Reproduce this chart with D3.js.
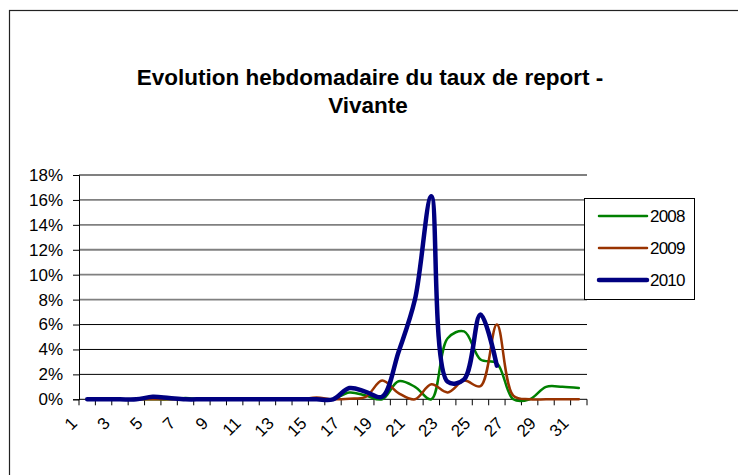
<!DOCTYPE html>
<html>
<head>
<meta charset="utf-8">
<script src="https://cdn.jsdelivr.net/npm/d3@7"></script>
<style>
  body { margin: 0; background: #fff; }
  text { font-family: "Liberation Sans", Arial, sans-serif; fill: #000; }
</style>
</head>
<body>
<div id="chart"></div>
<script>
// --- Daten (Wochen 1..31, Werte in %) ---
const semaines = [1,2,3,4,5,6,7,8,9,10,11,12,13,14,15,16,17,18,19,20,21,22,23,24,25,26,27,28,29,30,31];
const yTicks = [0, 2, 4, 6, 8, 10, 12, 14, 16, 18];

const serie2008 = [0,0,0,0,0,0,0.1,0,0,0,0,0,0,0,0,0,0.55,0.3,0,1.45,1.0,0,4.9,5.45,3.2,2.9,0,0,1.0,1.0,0.9];
const serie2009 = [0,0,0,0,0,0,0,0,0,0,0,0,0,0,0.15,0,0.05,0.2,1.5,0.5,0,1.2,0.55,1.5,1.05,6.0,0.3,0,0,0,0];
const serie2010 = [0,0,0,0,0.2,0.1,0,0,0,0,0,0,0,0,0,0,0.9,0.6,0.2,3.8,8.0,16.3,1.4,1.6,6.8,2.7,null,null,null,null,null];

const series = [
    { name: "2008", values: serie2008, color: "#008000", width: 2.5 },
    { name: "2009", values: serie2009, color: "#993300", width: 2.5 },
    { name: "2010", values: serie2010, color: "#000080", width: 4.5 }
];

const W = 738, H = 475;
const plot = { left: 79, right: 587, top: 175, bottom: 399.3 };

const svg = d3.select("#chart")
    .append("svg")
    .attr("width", W)
    .attr("height", H);

// Rahmen um das Diagramm
svg.append("rect")
    .attr("x", 9.5).attr("y", 10.5)
    .attr("width", 740).attr("height", 480)
    .attr("fill", "#fff")
    .attr("stroke", "#222")
    .attr("stroke-width", 1.2);

// Titel
const title = svg.append("text")
    .attr("text-anchor", "middle")
    .style("font-size", "22.5px")
    .style("font-weight", "bold");
title.append("tspan").attr("x", 370).attr("y", 85).text("Evolution hebdomadaire du taux de report -");
title.append("tspan").attr("x", 368).attr("y", 113).text("Vivante");

// Skalen
const x = d3.scaleBand()
    .domain(semaines)
    .range([plot.left, plot.right])
    .paddingInner(0).paddingOuter(0);
const cx = d => x(d) + x.bandwidth() / 2;

const y = d3.scaleLinear()
    .domain([0, 18])
    .range([plot.bottom, plot.top]);

// Gitterlinien
svg.append("g")
    .selectAll("line")
    .data(yTicks.filter(v => v > 0))
    .enter()
    .append("line")
    .attr("x1", plot.left).attr("x2", plot.right)
    .attr("y1", d => y(d)).attr("y2", d => y(d))
    .attr("stroke", d => d >= 8 ? "#808080" : "#000")
    .attr("stroke-width", d => d >= 8 ? 1.8 : 1);

// Y-Achse
const yAxis = svg.append("g")
    .attr("transform", `translate(${plot.left},0)`)
    .call(d3.axisLeft(y).tickValues(yTicks).tickSize(6).tickPadding(10).tickFormat(d => d + "%"));
yAxis.select(".domain").attr("stroke", "#000");
yAxis.selectAll(".tick line").attr("stroke", "#000");
yAxis.selectAll("text")
    .style("font-size", "17px")
    .style("font-family", "'Liberation Sans', Arial, sans-serif");

// X-Achse: Linie + Striche an den Kategoriegrenzen
svg.append("line")
    .attr("x1", plot.left).attr("x2", plot.right)
    .attr("y1", plot.bottom).attr("y2", plot.bottom)
    .attr("stroke", "#000");

const grenzen = semaines.map(d => x(d)).concat([plot.right]);
svg.append("g")
    .selectAll("line")
    .data(grenzen)
    .enter()
    .append("line")
    .attr("x1", d => d).attr("x2", d => d)
    .attr("y1", plot.bottom).attr("y2", plot.bottom + 6)
    .attr("stroke", "#000");

// X-Beschriftungen (schräg)
svg.append("g")
    .selectAll("text")
    .data(semaines.filter(d => d % 2 === 1))
    .enter()
    .append("text")
    .text(d => d)
    .attr("text-anchor", "end")
    .attr("transform", d => `translate(${cx(d) - 9},${plot.bottom + 25}) rotate(-45)`)
    .style("font-size", "17px");

// Linien (geglättet)
const line = d3.line()
    .defined(d => d.v !== null)
    .x(d => cx(d.w))
    .y(d => y(d.v))
    .curve(d3.curveCatmullRom.alpha(0.5));

svg.append("g")
    .selectAll("path")
    .data(series)
    .enter()
    .append("path")
    .attr("d", s => line(s.values.map((v, i) => ({ w: semaines[i], v: v }))))
    .attr("fill", "none")
    .attr("stroke", s => s.color)
    .attr("stroke-width", s => s.width)
    .attr("stroke-linejoin", "round")
    .attr("stroke-linecap", "round");

// Legende
const leg = svg.append("g");
leg.append("rect")
    .attr("x", 584.5).attr("y", 198.5)
    .attr("width", 110).attr("height", 101)
    .attr("fill", "#fff")
    .attr("stroke", "#000");

const legItem = leg.selectAll("g.item")
    .data(series)
    .enter()
    .append("g")
    .attr("transform", (d, i) => `translate(0,${216 + i * 32})`);
legItem.append("line")
    .attr("x1", 599).attr("x2", 647)
    .attr("stroke", d => d.color)
    .attr("stroke-width", d => d.width)
    .attr("stroke-linecap", "round");
legItem.append("text")
    .attr("x", 650).attr("y", 6)
    .text(d => d.name)
    .style("font-size", "17px")
    .style("letter-spacing", "-0.8px");
</script>
</body>
</html>
